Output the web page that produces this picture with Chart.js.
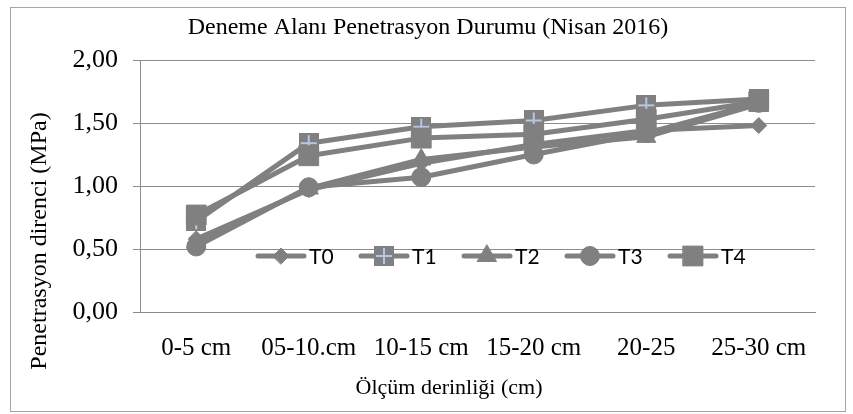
<!DOCTYPE html>
<html>
<head>
<meta charset="utf-8">
<script src="https://cdn.jsdelivr.net/npm/chart.js@4/dist/chart.umd.min.js"></script>
<style>
	html, body { margin: 0; padding: 0; background: #fff; }
</style>
</head>
<body>
<canvas id="chart" width="853" height="414"></canvas>
<script>
	'use strict';

	// ── Data ────────────────────────────────────────────────────────────────
	var categories = ['0-5 cm', '05-10.cm', '10-15 cm', '15-20 cm', '20-25', '25-30 cm'];
	var seriesNames = ['T0', 'T1', 'T2', 'T3', 'T4'];
	var t0 = [0.58, 0.97, 1.18, 1.33, 1.44, 1.48];
	var t1 = [0.72, 1.34, 1.47, 1.52, 1.64, 1.69];
	var t2 = [0.55, 0.98, 1.21, 1.31, 1.39, 1.65];
	var t3 = [0.52, 0.99, 1.07, 1.25, 1.42, 1.66];
	var t4 = [0.77, 1.24, 1.38, 1.41, 1.53, 1.67];
	var yTicks = [0, 0.5, 1, 1.5, 2];

	var chartTitle = 'Deneme Alanı Penetrasyon Durumu (Nisan 2016)';
	var xTitle = 'Ölçüm derinliği (cm)';
	var yTitle = 'Penetrasyon direnci (MPa)';

	var GRAY  = '#808080';
	var AXIS  = '#8c8c8c';
	var SERIF = "'Liberation Serif', 'Times New Roman', serif";

	// Square marker with a light blue cross (T1).
	function crossSquare(size) {
		var c = document.createElement('canvas');
		c.width = size; c.height = size;
		var g = c.getContext('2d');
		g.fillStyle = GRAY;
		g.fillRect(0, 0, size, size);
		g.strokeStyle = '#b4c7e7';
		g.lineWidth = 2;
		g.beginPath();
		g.moveTo(size / 2, 2); g.lineTo(size / 2, size - 2);
		g.moveTo(2, size / 2); g.lineTo(size - 2, size / 2);
		g.stroke();
		return c;
	}

	function series(label, data, style, radius, order) {
		return {
			label: label,
			data: data,
			borderColor: GRAY,
			backgroundColor: GRAY,
			borderWidth: 5,
			borderJoinStyle: 'round',
			borderCapStyle: 'round',
			tension: 0,
			pointStyle: style,
			pointRadius: radius,
			pointHoverRadius: radius,
			pointBorderWidth: 1,
			pointBorderColor: GRAY,
			pointBackgroundColor: GRAY,
			order: order
		};
	}

	var styles = ['rectRot', crossSquare(20), 'triangle', 'circle', 'rect'];
	var radii  = [8, 10, 11, 9.5, 14];
	var values = [t0, t1, t2, t3, t4];

	var datasets = seriesNames.map(function (name, i) {
		// Later series drawn on top, as in the original.
		return series(name, values[i], styles[i], radii[i], seriesNames.length - 1 - i);
	});

	// ── Plugins ─────────────────────────────────────────────────────────────

	// Outer box plus the three titles (placed as in the source, not centred on the plot).
	var frame = {
		id: 'frame',
		beforeDraw: function (chart) {
			var ctx = chart.ctx;
			ctx.save();
			ctx.fillStyle = '#fff';
			ctx.fillRect(0, 0, chart.width, chart.height);
			ctx.strokeStyle = '#a6a6a6';
			ctx.lineWidth = 1;
			ctx.strokeRect(10.5, 7.5, 835, 404);

			ctx.fillStyle = '#000';
			ctx.textAlign = 'center';
			ctx.textBaseline = 'middle';
			ctx.font = '24px ' + SERIF;
			ctx.fillText(chartTitle, 428, 28);

			ctx.font = '22px ' + SERIF;
			ctx.fillText(xTitle, 449, 388);

			ctx.translate(40, 241);
			ctx.rotate(-Math.PI / 2);
			ctx.font = '24px ' + SERIF;
			ctx.fillText(yTitle, 0, 0);
			ctx.restore();
		}
	};

	// Legend sits inside the plot, line + marker per series.
	var inlineLegend = {
		id: 'inlineLegend',
		afterDatasetsDraw: function (chart) {
			var ctx = chart.ctx;
			var y = 256;
			ctx.save();
			chart.data.datasets.forEach(function (ds, i) {
				var x0 = 258 + i * 103;
				ctx.strokeStyle = GRAY;
				ctx.lineWidth = 5;
				ctx.lineCap = 'round';
				ctx.beginPath();
				ctx.moveTo(x0, y);
				ctx.lineTo(x0 + 46, y);
				ctx.stroke();

				ctx.fillStyle = GRAY;
				ctx.strokeStyle = GRAY;
				ctx.lineWidth = 1;
				Chart.helpers.drawPoint(ctx, {
					pointStyle: ds.pointStyle,
					radius: ds.pointRadius,
					rotation: 0,
					borderWidth: 1
				}, x0 + 23, y);

				ctx.fillStyle = '#000';
				ctx.font = '21px Lato';
				ctx.textBaseline = 'middle';
				ctx.fillText(ds.label, x0 + 51, y + 1);
			});
			ctx.restore();
		}
	};

	// ── Chart ───────────────────────────────────────────────────────────────

	new Chart(document.getElementById('chart'), {
		type: 'line',
		data: { labels: categories, datasets: datasets },
		plugins: [frame, inlineLegend],
		options: {
			responsive: false,
			animation: false,
			events: [],
			layout: { padding: { top: 60, right: 38, bottom: 0, left: 0 } },
			plugins: {
				legend: { display: false },
				tooltip: { enabled: false },
				title: { display: false }
			},
			scales: {
				x: {
					offset: true,
					grid: { display: false },
					border: { display: true, color: AXIS },
					ticks: {
						color: '#000',
						font: { family: SERIF, size: 25 },
						padding: 13,
						maxRotation: 0,
						autoSkip: false
					},
					afterFit: function (s) { s.height = 102; }
				},
				y: {
					min: 0,
					max: 2,
					afterBuildTicks: function (s) {
						s.ticks = yTicks.map(function (v) { return { value: v }; });
					},
					grid: { color: AXIS, lineWidth: 1, tickLength: 7 },
					border: { display: true, color: AXIS },
					ticks: {
						color: '#000',
						font: { family: SERIF, size: 26 },
						padding: 15,
						callback: function (v) { return Number(v).toFixed(2).replace('.', ','); }
					},
					afterFit: function (s) { s.width = 140; }
				}
			}
		}
	});
</script>
</body>
</html>
